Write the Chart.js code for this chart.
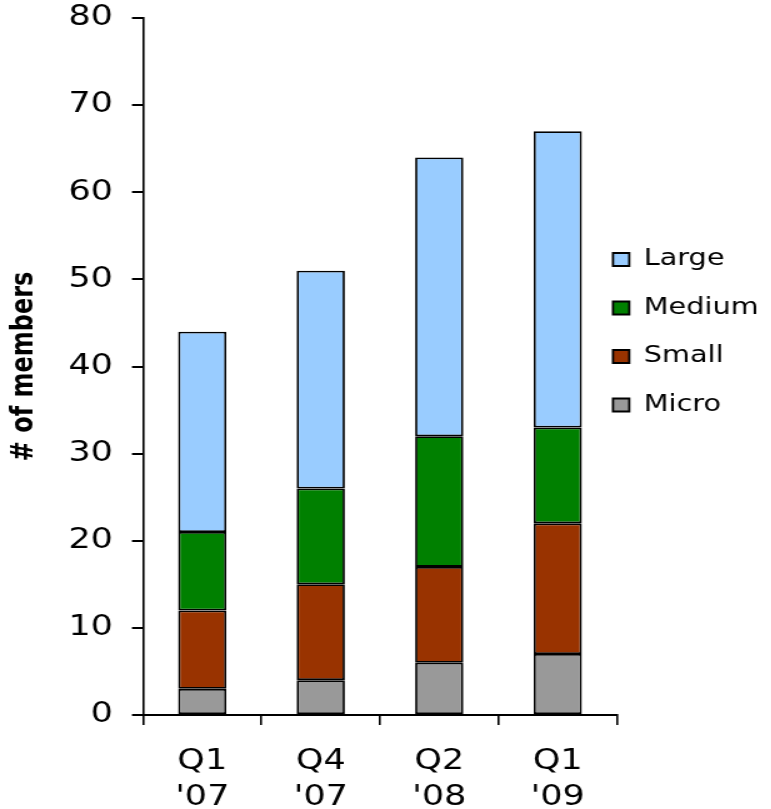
<!DOCTYPE html>
<html>
<head>
<meta charset="utf-8">
<script src="https://cdn.jsdelivr.net/npm/chart.js@4/dist/chart.umd.min.js"></script>
<style>
  html, body { margin: 0; padding: 0; background: #fff; overflow: hidden; }
  /* the source picture is stretched horizontally, so the chart is too */
  #wrap { width: 617px; height: 809px; transform: scaleX(1.25); transform-origin: 0 0; }
</style>
</head>
<body>
<div id="wrap"><canvas id="chart" width="617" height="809"></canvas></div>
<script>
// Data
const quarters = ["Q1", "Q4", "Q2", "Q1"];
const years    = ["'07", "'07", "'08", "'09"];
const micro  = [3, 4, 6, 7];
const small  = [9, 11, 11, 15];
const medium = [9, 11, 15, 11];
const large  = [23, 25, 32, 34];
const yTicks = [0, 10, 20, 30, 40, 50, 60, 70, 80];

const labels = quarters.map((q, i) => [q, years[i]]);

Chart.defaults.font.family = "'DejaVu Sans', Verdana, sans-serif";
Chart.defaults.color = "#000";

function seg(label, data, color) {
  return {
    label, data,
    backgroundColor: color,
    borderColor: "#000",
    borderWidth: 1.8,
    borderSkipped: false,
    barPercentage: 0.407,
    categoryPercentage: 1
  };
}

// move the legend next to the plot, where the original has it
const legendSpot = {
  id: "legendSpot",
  afterLayout(chart) {
    const lg = chart.legend;
    if (!lg) return;
    lg.left = 490.4 - 25.5;
    lg.top  = 248 - 25.5;
  }
};

new Chart(document.getElementById("chart").getContext("2d"), {
  type: "bar",
  data: {
    labels,
    datasets: [
      seg("Micro",  micro,  "#999999"),
      seg("Small",  small,  "#993300"),
      seg("Medium", medium, "#008000"),
      seg("Large",  large,  "#99CCFF")
    ]
  },
  options: {
    responsive: false,
    animation: false,
    layout: { padding: { top: 18, left: 0, right: 0, bottom: 0 } },
    scales: {
      x: {
        stacked: true,
        grid: { drawOnChartArea: false, drawTicks: true, tickLength: 10, color: "#000", lineWidth: 1.6, offset: true },
        border: { display: true, color: "#000", width: 2 },
        ticks: { font: { size: 28, lineHeight: 1.27 }, padding: 19, maxRotation: 0, autoSkip: false },
        afterFit(s) { s.height = 94; }
      },
      y: {
        stacked: true,
        min: 0, max: 80,
        afterBuildTicks(s) { s.ticks = yTicks.map(v => ({ value: v })); },
        grid: { drawOnChartArea: false, drawTicks: true, tickLength: 8.8, color: "#000", lineWidth: 2 },
        border: { display: true, color: "#000", width: 1.6 },
        ticks: { font: { size: 28 }, padding: 15.2 },
        title: {
          display: true,
          text: "# of members",
          font: { family: "'DejaVu Sans', sans-serif", size: 24, weight: "bold" },
          padding: { top: 5, bottom: 0 }
        },
        afterFit(s) {
          s.width = 114.4;
          s.paddingTop = 0;
          s.paddingBottom = 0;
        }
      }
    },
    plugins: {
      legend: {
        position: "right",
        align: "start",
        reverse: true,
        maxWidth: 123.4,
        labels: {
          boxWidth: 13, boxHeight: 13,
          padding: 25.5,
          font: { size: 23 },
          color: "#000"
        }
      },
      tooltip: { enabled: false }
    }
  },
  plugins: [legendSpot]
});
</script>
</body>
</html>
